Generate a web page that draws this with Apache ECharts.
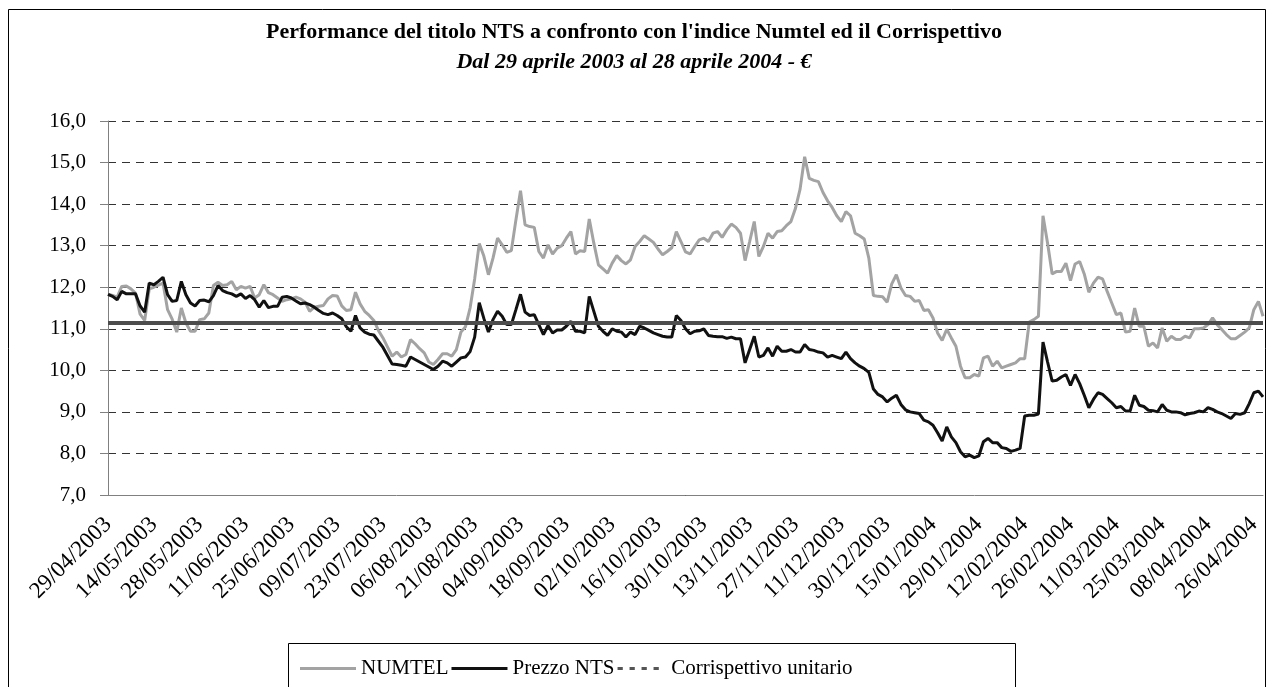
<!DOCTYPE html>
<html>
<head>
<meta charset="utf-8">
<script src="https://cdn.jsdelivr.net/npm/echarts@6/dist/echarts.min.js"></script>
<style>
html,body{margin:0;padding:0;background:#fff;}
#chart{width:1268px;height:687px;}
</style>
</head>
<body>
<div id="chart"></div>
<script>
var titleText = "Performance del titolo NTS a confronto con l'indice Numtel ed il Corrispettivo";
var subtitleText = "Dal 29 aprile 2003 al 28 aprile 2004 - \u20ac";

var tickLabels = ["29/04/2003","14/05/2003","28/05/2003","11/06/2003","25/06/2003","09/07/2003","23/07/2003","06/08/2003","21/08/2003","04/09/2003","18/09/2003","02/10/2003","16/10/2003","30/10/2003","13/11/2003","27/11/2003","11/12/2003","30/12/2003","15/01/2004","29/01/2004","12/02/2004","26/02/2004","11/03/2004","25/03/2004","08/04/2004","26/04/2004"];
var labelStep = 10;

var numtel = [
11.83,11.80,11.76,12.02,12.03,11.96,11.86,11.35,11.20,11.96,
12.00,12.05,12.10,11.46,11.23,10.92,11.50,11.14,10.94,10.94,
11.22,11.24,11.38,12.04,12.12,12.04,12.06,12.14,11.94,12.02,
11.98,12.02,11.74,11.82,12.06,11.87,11.82,11.74,11.66,11.70,
11.72,11.76,11.72,11.64,11.42,11.52,11.54,11.56,11.72,11.80,
11.79,11.55,11.44,11.46,11.88,11.60,11.42,11.32,11.20,10.96,
10.78,10.56,10.34,10.44,10.32,10.38,10.74,10.64,10.52,10.42,
10.20,10.14,10.26,10.40,10.40,10.34,10.50,10.92,11.05,11.50,
12.20,13.05,12.75,12.30,12.70,13.18,13.02,12.84,12.88,13.62,
14.32,13.50,13.46,13.44,12.86,12.70,13.02,12.80,12.94,13.00,
13.18,13.34,12.80,12.88,12.86,13.64,13.06,12.54,12.44,12.34,
12.58,12.76,12.64,12.56,12.66,12.98,13.10,13.24,13.16,13.08,
12.92,12.78,12.86,12.95,13.34,13.10,12.85,12.80,12.98,13.14,
13.18,13.10,13.30,13.34,13.20,13.38,13.52,13.44,13.30,12.64,
13.10,13.58,12.74,12.98,13.30,13.18,13.34,13.36,13.48,13.58,
13.90,14.36,15.14,14.62,14.57,14.54,14.28,14.08,13.92,13.72,
13.58,13.82,13.72,13.30,13.24,13.16,12.70,11.80,11.78,11.77,
11.64,12.08,12.30,11.98,11.80,11.78,11.66,11.68,11.44,11.46,
11.26,10.90,10.72,10.99,10.78,10.58,10.10,9.82,9.82,9.90,
9.86,10.30,10.34,10.10,10.22,10.06,10.10,10.14,10.18,10.28,
10.28,11.16,11.22,11.30,13.72,13.06,12.32,12.38,12.38,12.58,
12.16,12.56,12.62,12.32,11.88,12.10,12.24,12.20,11.90,11.62,
11.34,11.38,10.92,10.94,11.50,11.06,11.06,10.58,10.66,10.54,
11.02,10.70,10.82,10.74,10.74,10.82,10.78,11.00,11.00,11.02,
11.10,11.26,11.10,10.98,10.86,10.76,10.76,10.84,10.92,11.02,
11.46,11.66,11.30
];

var prezzoNTS = [
11.83,11.78,11.70,11.90,11.84,11.84,11.84,11.55,11.40,12.10,
12.06,12.14,12.24,11.82,11.66,11.68,12.14,11.82,11.62,11.55,
11.68,11.69,11.65,11.80,12.04,11.92,11.87,11.84,11.78,11.84,
11.73,11.80,11.70,11.52,11.68,11.51,11.54,11.54,11.76,11.78,
11.74,11.67,11.60,11.62,11.58,11.52,11.44,11.37,11.34,11.38,
11.32,11.24,11.05,10.94,11.32,11.02,10.92,10.87,10.85,10.70,
10.55,10.35,10.15,10.14,10.12,10.10,10.32,10.26,10.20,10.14,
10.08,10.02,10.10,10.22,10.18,10.10,10.20,10.30,10.32,10.45,
10.80,11.63,11.25,10.92,11.22,11.42,11.30,11.10,11.10,11.46,
11.83,11.40,11.32,11.34,11.10,10.86,11.08,10.90,10.97,10.97,
11.06,11.18,10.94,10.94,10.90,11.78,11.42,11.06,10.94,10.84,
11.00,10.94,10.92,10.80,10.92,10.86,11.06,11.02,10.96,10.90,
10.86,10.82,10.80,10.80,11.32,11.20,11.00,10.88,10.94,10.95,
11.00,10.84,10.82,10.81,10.81,10.77,10.80,10.76,10.76,10.18,
10.50,10.82,10.32,10.36,10.54,10.34,10.58,10.46,10.46,10.50,
10.44,10.44,10.62,10.50,10.48,10.44,10.42,10.32,10.36,10.32,
10.28,10.44,10.28,10.18,10.10,10.04,9.95,9.55,9.42,9.36,
9.24,9.33,9.40,9.18,9.05,9.00,8.98,8.96,8.80,8.76,
8.68,8.50,8.30,8.64,8.40,8.26,8.04,7.92,7.96,7.90,
7.94,8.28,8.36,8.26,8.26,8.14,8.12,8.05,8.08,8.12,
8.90,8.92,8.92,8.95,10.68,10.20,9.74,9.76,9.84,9.90,
9.64,9.90,9.68,9.40,9.10,9.30,9.46,9.42,9.32,9.22,
9.10,9.13,9.02,9.02,9.40,9.16,9.13,9.04,9.03,9.00,
9.18,9.04,9.00,9.00,8.98,8.93,8.96,8.98,9.02,9.00,
9.10,9.06,9.00,8.96,8.90,8.84,8.96,8.94,8.98,9.20,
9.46,9.50,9.36
];

var corrispettivo = 11.14;

var yMin = 7, yMax = 16, yStep = 1;

var categories = [];
for (var i = 0; i < numtel.length; i++) {
  categories.push(i % labelStep === 0 && tickLabels[i / labelStep] ? tickLabels[i / labelStep] : ('#' + i));
}

var FONT = "'Liberation Serif', 'Times New Roman', serif";
var dashIcon = 'path://M0,0h7v4h-7zM16,0h7v4h-7zM32,0h7v4h-7zM48,0h7v4h-7z';
var chart = echarts.init(document.getElementById('chart'), null, {renderer: 'canvas'});
chart.setOption({
  animation: false,
  backgroundColor: '#ffffff',
  title: {
    text: titleText,
    subtext: subtitleText,
    left: 'center',
    top: 16,
    itemGap: 8,
    textStyle: {fontFamily: FONT, fontSize: 22, fontWeight: 'bold', color: '#000'},
    subtextStyle: {fontFamily: FONT, fontSize: 22, fontWeight: 'bold', fontStyle: 'italic', color: '#000'}
  },
  graphic: [
    {type: 'rect', shape: {x: 8.5, y: 9.5, width: 1257, height: 700}, style: {fill: 'none', stroke: '#000', lineWidth: 1}, silent: true},
    {type: 'rect', shape: {x: 288.5, y: 643.5, width: 727, height: 60}, style: {fill: '#fff', stroke: '#000', lineWidth: 1}, silent: true, z: -1}
  ],
  legend: {
    left: 295,
    top: 653,
    itemGap: 3,
    itemWidth: 56,
    itemHeight: 3,
    textStyle: {fontFamily: FONT, fontSize: 21, color: '#000'},
    data: [
      {name: 'NUMTEL', icon: 'rect'},
      {name: 'Prezzo NTS', icon: 'rect'},
      {name: 'Corrispettivo unitario', icon: dashIcon}
    ]
  },
  grid: {left: 108, right: 5, top: 121, bottom: 192, containLabel: false},
  xAxis: {
    type: 'category',
    data: categories,
    boundaryGap: false,
    axisLine: {lineStyle: {color: '#808080', width: 1}},
    axisTick: {show: false},
    axisLabel: {
      interval: labelStep - 1,
      rotate: 45,
      margin: 26,
      fontFamily: FONT,
      fontSize: 23,
      color: '#000',
      formatter: function (v) { return v.charAt(0) === '#' ? '' : v; }
    },
    splitLine: {show: false}
  },
  yAxis: {
    type: 'value',
    min: yMin,
    max: yMax,
    interval: yStep,
    axisLine: {show: true, lineStyle: {color: '#808080', width: 1}},
    axisTick: {show: true, length: 8, lineStyle: {color: '#808080'}},
    axisLabel: {
      margin: 22,
      fontFamily: FONT,
      fontSize: 21,
      color: '#000',
      formatter: function (v) { return v.toFixed(1).replace('.', ','); }
    },
    splitLine: {show: true, lineStyle: {color: '#333', type: [8, 6], width: 1}}
  },
  series: [
    {
      name: 'NUMTEL', type: 'line', data: numtel, symbol: 'none',
      lineStyle: {color: '#a3a3a3', width: 3}, itemStyle: {color: '#a3a3a3'}, z: 2
    },
    {
      name: 'Prezzo NTS', type: 'line', data: prezzoNTS, symbol: 'none',
      lineStyle: {color: '#111', width: 3}, itemStyle: {color: '#111'}, z: 3
    },
    {
      name: 'Corrispettivo unitario', type: 'line', data: [], symbol: 'none',
      lineStyle: {color: '#4d4d4d', width: 4}, itemStyle: {color: '#555'}, z: 4,
      markLine: {
        silent: true, symbol: 'none', label: {show: false},
        lineStyle: {color: '#4d4d4d', width: 4, type: 'solid'},
        data: [{yAxis: corrispettivo}]
      }
    }
  ]
});
</script>
</body>
</html>
